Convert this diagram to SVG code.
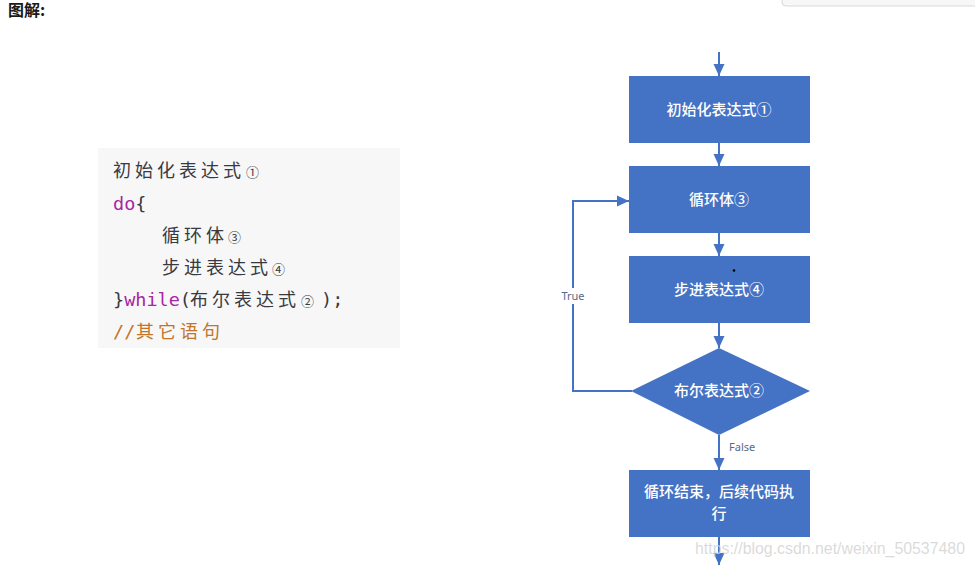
<svg xmlns="http://www.w3.org/2000/svg" width="975" height="568" viewBox="0 0 975 568">
<style>
.cjk{font-family:"Noto Sans CJK SC","Noto Sans",sans-serif}
.code{font-family:"DejaVu Sans Mono","Noto Sans CJK SC",monospace;font-size:18.5px;fill:#383a42}
.zh{font-family:"Noto Sans CJK SC",sans-serif;font-size:18px;letter-spacing:4px}
.num{font-family:"Noto Sans CJK SC",sans-serif;font-size:13px}
.kw{fill:#a626a4}
.cm{fill:#c2742b}
.box{fill:#4472c4}
.lbl{font-family:"Noto Sans CJK SC","Noto Sans",sans-serif;font-size:15px;font-weight:500;fill:#ffffff;text-anchor:middle}
.edge{fill:none;stroke:#4472c4;stroke-width:2}
.elbl{font-family:"Noto Sans","Noto Sans CJK SC",sans-serif;font-size:11px;fill:#56698a}
</style>
<defs>
<marker id="ah" markerUnits="userSpaceOnUse" viewBox="0 0 12 12" markerWidth="12" markerHeight="12" refX="12" refY="6" orient="auto">
<path d="M0,0.5 L12,6 L0,11.5 z" fill="#4472c4"/>
</marker>
</defs>
<rect width="975" height="568" fill="#ffffff"/>
<rect x="782" y="-10" width="200" height="16" rx="4" fill="#f7f7f7" stroke="#d6d9dc"/>
<text x="8" y="16" class="cjk" font-size="16" font-weight="bold" fill="#1a1a1a">图解:</text>

<g id="code">
<rect x="98" y="148" width="302" height="200" fill="#f7f7f7"/>
<text class="code" y="177"><tspan class="zh" x="113">初始化表达式</tspan><tspan class="num" x="246">①</tspan></text>
<text class="code" y="210"><tspan x="113" class="kw">do</tspan><tspan>{</tspan></text>
<text class="code" y="242"><tspan class="zh" x="162">循环体</tspan><tspan class="num" x="228">③</tspan></text>
<text class="code" y="274"><tspan class="zh" x="162">步进表达式</tspan><tspan class="num" x="272">④</tspan></text>
<text class="code" y="306"><tspan x="113">}</tspan><tspan class="kw">while</tspan><tspan>(</tspan><tspan class="zh" x="190">布尔表达式</tspan><tspan class="num" x="301">②</tspan><tspan x="321">);</tspan></text>
<text class="code cm" y="338"><tspan x="113">//</tspan><tspan class="zh" x="136">其它语句</tspan></text>
</g>

<g id="connectors">
<line class="edge" x1="719" y1="52" x2="719" y2="76" marker-end="url(#ah)"/>
<line class="edge" x1="719" y1="143" x2="719" y2="166" marker-end="url(#ah)"/>
<line class="edge" x1="719" y1="233" x2="719" y2="256" marker-end="url(#ah)"/>
<line class="edge" x1="719" y1="323" x2="719" y2="348" marker-end="url(#ah)"/>
<line class="edge" x1="719" y1="435" x2="719" y2="470" marker-end="url(#ah)"/>
<line class="edge" x1="719" y1="537" x2="719" y2="565" marker-end="url(#ah)"/>
<polyline class="edge" points="632,391 573,391 573,201 629,201" marker-end="url(#ah)"/>
<rect x="559" y="288" width="30" height="16" fill="#ffffff"/>
<text class="elbl" x="573" y="300" text-anchor="middle">True</text>
<text class="elbl" x="729" y="451">False</text>
</g>

<g id="n1">
<rect class="box" x="629" y="76" width="181" height="67"/>
<text class="lbl" x="719" y="115">初始化表达式①</text>
</g>
<g id="n2">
<rect class="box" x="629" y="166" width="181" height="67"/>
<text class="lbl" x="719" y="205">循环体③</text>
</g>
<g id="n3">
<rect class="box" x="629" y="256" width="181" height="67"/>
<text class="lbl" x="719" y="295">步进表达式④</text>
<circle cx="734" cy="270.5" r="1.3" fill="#000000"/>
</g>
<g id="n4">
<polygon class="box" points="719,348 810,391 719,435 631,391"/>
<text class="lbl" x="719" y="396">布尔表达式②</text>
</g>
<g id="n5">
<rect class="box" x="629" y="470" width="181" height="67"/>
<text class="lbl" x="719" y="497">循环结束，后续代码执</text>
<text class="lbl" x="719" y="519">行</text>
</g>
<text x="695" y="554" font-family="Liberation Sans,Arial,sans-serif" font-size="16" fill="#d4d4d4" fill-opacity="0.85" textLength="270" lengthAdjust="spacingAndGlyphs">https://blog.csdn.net/weixin_50537480</text>
</svg>
